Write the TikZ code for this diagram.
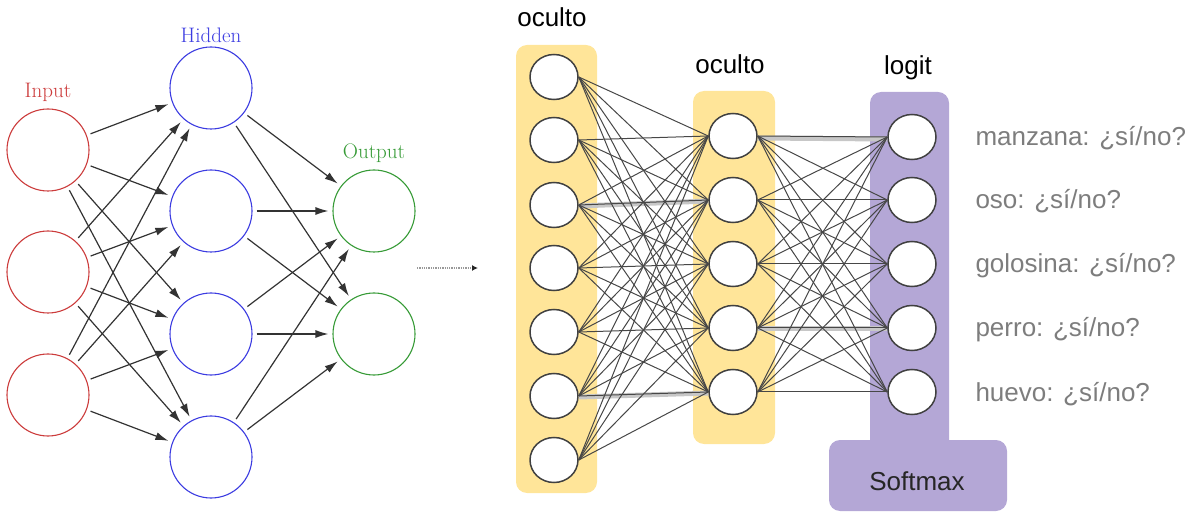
\documentclass[tikz,border=0pt]{standalone}
\usepackage{fontspec}
\setsansfont{Liberation Sans}
\usetikzlibrary{arrows.meta,shapes.geometric}

\definecolor{inred}{RGB}{204,60,60}
\definecolor{hidblue}{RGB}{60,60,225}
\definecolor{outgreen}{RGB}{55,155,55}
\definecolor{layeryellow}{RGB}{255,229,153}
\definecolor{layerpurple}{RGB}{180,167,214}
\definecolor{labelgray}{RGB}{125,125,125}

\tikzset{
  netcircle/.style={circle, minimum size=82bp, inner sep=0pt, line width=1.1bp, fill=white},
  incirc/.style={netcircle, draw=inred},
  hidcirc/.style={netcircle, draw=hidblue},
  outcirc/.style={netcircle, draw=outgreen},
  seriflabel/.style={font=\fontsize{21bp}{24bp}\selectfont, anchor=base},
  conn/.style={-{Latex[length=13bp,width=8bp]}, line width=1.2bp, draw=black!80,
               shorten >=4bp, shorten <=4bp},
  unit/.style={ellipse, minimum width=48bp, minimum height=45bp, inner sep=0pt,
               draw=black!75, line width=1.5bp, fill=white},
  wire/.style={line width=1bp, draw=black!72},
  ghostwire/.style={line width=5bp, draw=black!22},
  sanslabel/.style={font=\sffamily\fontsize{26bp}{30bp}\selectfont},
  classlabel/.style={sanslabel, text=labelgray, anchor=base west},
}

\begin{document}
\begin{tikzpicture}[x=1bp, y=-1bp]
\useasboundingbox (0,0) rectangle (1189,513);

% ---------- classic feed-forward network ----------
\foreach \i/\y in {1/150, 2/272, 3/395}
  \node[incirc] (I\i) at (48,\y) {};
\foreach \j/\y in {1/88, 2/211, 3/334, 4/457}
  \node[hidcirc] (H\j) at (211,\y) {};
\foreach \k/\y in {1/211, 2/334}
  \node[outcirc] (O\k) at (374,\y) {};

\node[seriflabel, text=inred]    (tIn)  at (48,98)   {Input};
\node[seriflabel, text=hidblue]  (tHid) at (211,43)  {Hidden};
\node[seriflabel, text=outgreen] (tOut) at (374,159) {Output};

\foreach \i in {1,2,3}
  \foreach \j in {1,...,4}
    \draw[conn] (I\i) -- (H\j);
\foreach \j in {1,...,4}
  \foreach \k in {1,2}
    \draw[conn] (H\j) -- (O\k);

% ---------- dotted link ----------
\coordinate (dA) at (417,268);
\coordinate (dB) at (478,268);
\draw[densely dotted, line width=1.3bp, draw=black!40,
      -{Latex[length=6bp,width=6bp,color=black!85]}] (dA) -- (dB);

% ---------- layer backgrounds ----------
\fill[layeryellow, rounded corners=11bp] (516,45) rectangle (597,493);
\fill[layeryellow, rounded corners=11bp] (693,91) rectangle (775,444);
\fill[layerpurple, rounded corners=11bp] (870,92) rectangle (949,460);
\fill[layerpurple, rounded corners=11bp] (829,440) rectangle (1007,511);

% ---------- units ----------
\foreach \i/\y in {1/77, 2/140, 3/205, 4/268, 5/332, 6/396, 7/460}
  \node[unit] (A\i) at (554,\y) {};
\foreach \j/\y in {1/136, 2/200, 3/264, 4/328, 5/392}
  \node[unit] (B\j) at (733,\y) {};
\foreach \k/\y in {1/137, 2/200, 3/264, 4/328, 5/392}
  \node[unit] (C\k) at (912,\y) {};

% faint wide strokes
\draw[ghostwire] ([yshift=-1bp]A3.east) -- ([yshift=-1bp]B2.west);
\draw[ghostwire] ([yshift=-1bp]A6.east) -- ([yshift=-1bp]B5.west);
\draw[ghostwire] ([yshift=-2bp]B1.east) -- ([yshift=-2bp]C1.west);
\draw[ghostwire] ([yshift=-1bp]B4.east) -- ([yshift=-1bp]C4.west);

% dense connections
\foreach \i in {1,...,7}
  \foreach \j in {1,...,5}
    \draw[wire] (A\i.east) -- (B\j.west);
\foreach \j in {1,...,5}
  \foreach \k in {1,...,5}
    \draw[wire] (B\j.east) -- (C\k.west);

% ---------- labels ----------
\node[sanslabel, anchor=base] (tOc1) at (552,27) {oculto};
\node[sanslabel, anchor=base] (tOc2) at (730,74) {oculto};
\node[sanslabel, anchor=base] (tLog) at (908,75) {logit};
\node[sanslabel, anchor=base, text=black!85] (tSoft) at (917,490) {Softmax};

\node[classlabel] (L1) at (972,146) {manzana: ¿sí/no?};
\node[classlabel] (L2) at (972,209) {oso: ¿sí/no?};
\node[classlabel] (L3) at (972,273) {golosina: ¿sí/no?};
\node[classlabel] (L4) at (972,337) {perro: ¿sí/no?};
\node[classlabel] (L5) at (972,401) {huevo: ¿sí/no?};
\end{tikzpicture}
\end{document}
